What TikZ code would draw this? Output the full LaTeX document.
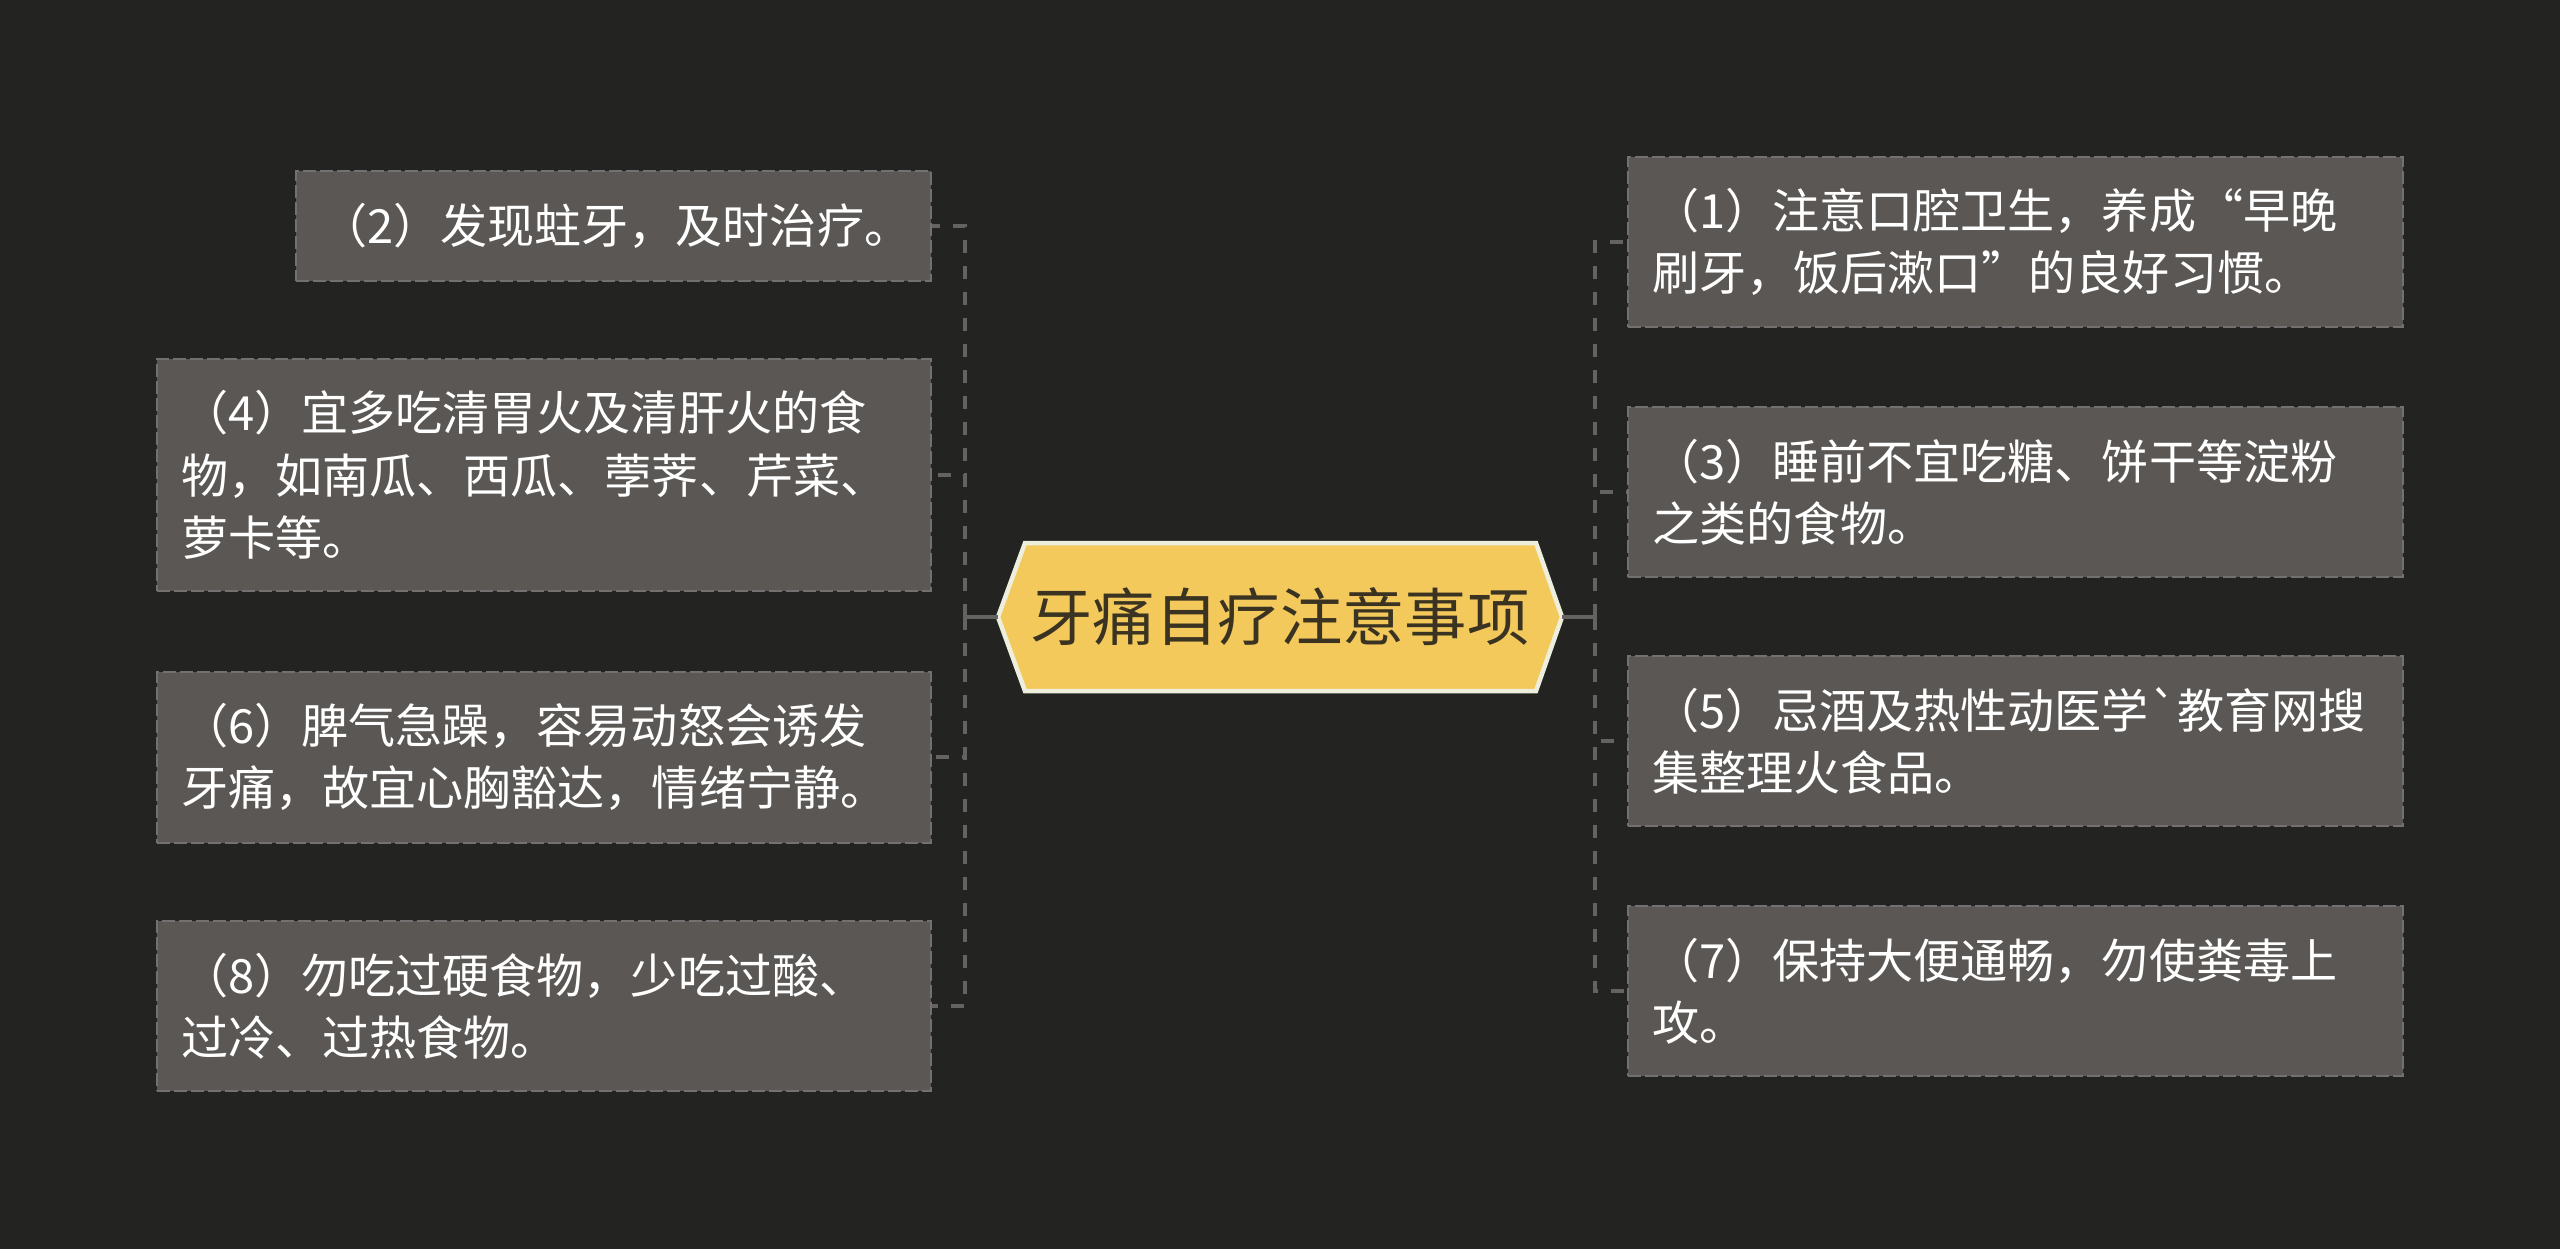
\documentclass[tikz,border=0pt]{standalone}
\usepackage{fontspec}
\newfontfamily\cjk{Noto Sans CJK SC}
\usepackage{tikz}
\usetikzlibrary{calc}
\definecolor{bgc}{HTML}{232322}
\definecolor{boxfill}{HTML}{5A5754}
\definecolor{boxline}{HTML}{727070}
\definecolor{linkc}{HTML}{646362}
\definecolor{hexfill}{HTML}{F4C95C}
\definecolor{hexline}{HTML}{EDEEDC}
\definecolor{hextext}{HTML}{3A3322}

\tikzset{
  tipbox/.style={draw=boxline,line width=0.04cm,dash pattern=on 0.26cm off 0.08cm,fill=boxfill,
    text=white,align=left,inner xsep=0.48cm,inner ysep=0pt,font=\cjk\fontsize{26.8}{35.5}\selectfont},
  link/.style={draw=linkc,line width=0.085cm,dash pattern=on 0.26cm off 0.26cm}
}

\begin{document}
\begin{tikzpicture}[x=0.02cm,y=-0.02cm]
% background
\fill[bgc] (0,0) rectangle (2560,1249);
\useasboundingbox (0,0) rectangle (2560,1249);
% central topic: hexagon drawn directly, text node on top
\fill[hexfill,draw=hexline,line width=0.09cm,line join=miter]
  (998,617) -- (1025,543) -- (1536,543) -- (1562,617) -- (1536,691) -- (1025,691) -- cycle;
\node[minimum width=11.28cm,minimum height=2.96cm,inner sep=0pt,text=hextext,
  font=\cjk\fontsize{35.5}{40}\selectfont] (topic) at (1280,617) {牙痛自疗注意事项};
% left side
\node[tipbox,text width=11.74cm,minimum height=2.2cm] (b2) at (613.5,226) {（2）发现蛀牙，及时治疗。};
\node[tipbox,text width=14.52cm,minimum height=4.64cm] (b4) at (544,475) {（4）宜多吃清胃火及清肝火的食\\物，如南瓜、西瓜、荸荠、芹菜、\\萝卡等。};
\node[tipbox,text width=14.52cm,minimum height=3.42cm] (b6) at (544,757) {（6）脾气急躁，容易动怒会诱发\\牙痛，故宜心胸豁达，情绪宁静。};
\node[tipbox,text width=14.52cm,minimum height=3.4cm] (b8) at (544,1006) {（8）勿吃过硬食物，少吃过酸、\\过冷、过热食物。};
% right side
\node[tipbox,text width=14.54cm,minimum height=3.4cm] (b1) at (2015.5,242) {（1）注意口腔卫生，养成“早晚\\刷牙，饭后漱口”的良好习惯。};
\node[tipbox,text width=14.54cm,minimum height=3.4cm] (b3) at (2015.5,492) {（3）睡前不宜吃糖、饼干等淀粉\\之类的食物。};
\node[tipbox,text width=14.54cm,minimum height=3.4cm] (b5) at (2015.5,741) {（5）忌酒及热性动医学`教育网搜\\集整理火食品。};
\node[tipbox,text width=14.54cm,minimum height=3.4cm] (b7) at (2015.5,991) {（7）保持大便通畅，勿使粪毒上\\攻。};
% connectors
\coordinate (lhub) at (965,617);
\coordinate (rhub) at (1595,617);
\draw[link,solid] (topic.west) -- (lhub);
\draw[link,solid] (topic.east) -- (rhub);
\foreach \b in {b2,b4,b6,b8} \draw[link] (lhub) |- (\b.east);
\foreach \b in {b1,b3,b5,b7} \draw[link] (rhub) |- (\b.west);
\end{tikzpicture}
\end{document}
